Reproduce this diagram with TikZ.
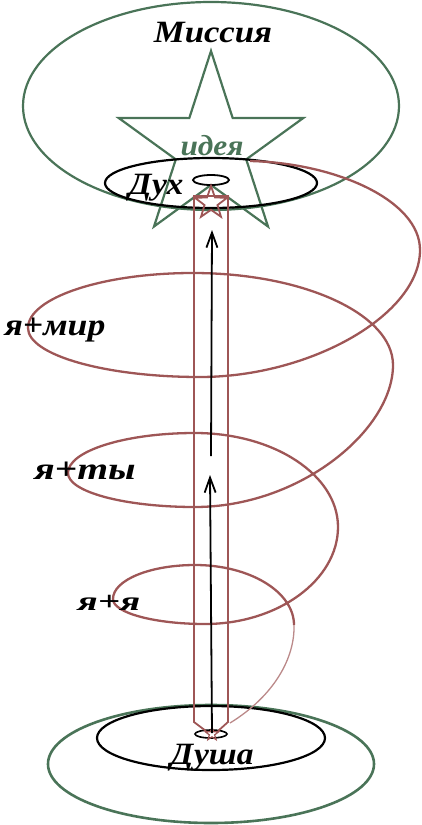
\documentclass[tikz,border=0pt]{standalone}
\usepackage{fontspec}
\setmainfont{Liberation Serif}
\usetikzlibrary{arrows.meta,shapes.geometric}
\definecolor{spiralred}{RGB}{158,86,86}
\definecolor{leafgreen}{RGB}{74,116,88}
\begin{document}
\begin{tikzpicture}[x=1pt,y=-1pt,
  gline/.style={draw=leafgreen,line width=2.2pt},
  bline/.style={draw=black,line width=2.2pt},
  rline/.style={draw=spiralred,line width=2.3pt},
  oval/.style={ellipse,inner sep=0pt,outer sep=0pt},
  hand/.style={font=\bfseries\itshape,inner sep=0pt},
  upflow/.style={draw=black,line width=1.8pt,-{Straight Barb[length=15pt,width=11pt,line width=1.8pt]}},
  redstar/.style={star,star points=5,star point ratio=2.5,inner sep=0pt,draw=spiralred}
]
\useasboundingbox (0,0) rectangle (422,825);

% top: mission ellipse
\node[oval,gline,minimum width=376pt,minimum height=208pt] (mission) at (211,106) {};
% star
\draw[gline,line join=miter] (211,51) -- (232.7,118.1) -- (303.3,118) -- (246.2,159.4)
  -- (268,226.5) -- (211,185) -- (154,226.5) -- (175.8,159.4) -- (118.7,118)
  -- (189.3,118.1) -- cycle;
% spirit ellipse
\node[oval,bline,minimum width=212pt,minimum height=50pt] (spirit) at (211,183) {};
\node[oval,draw=black,line width=1.8pt,minimum width=36pt,minimum height=10pt] (halo) at (211,180) {};

% bottom ellipses
\node[oval,draw=leafgreen,line width=2.6pt,minimum width=326pt,minimum height=118pt] (ground) at (211,764) {};
\node[oval,bline,minimum width=228pt,minimum height=64pt] (soulring) at (211,738) {};
\node[oval,draw=black,line width=1.6pt,minimum width=32pt,minimum height=8pt] (soulhalo) at (211,734) {};

% column
\draw[rline,line width=1.8pt] (206,731) -- (194,722) -- (194,196) -- (228,196) -- (228,722) -- (218,731);
\node[redstar,line width=1.8pt,minimum size=34pt] (topstar) at (211,203) {};
\node[redstar,line width=1.2pt,minimum size=14pt] (botstar) at (212,734) {};

% helix
\coordinate (h0) at (250,161);
\coordinate (h1) at (420,250);
\coordinate (h2) at (200,377);
\coordinate (h3) at (28,328);
\coordinate (h4) at (193,273);
\coordinate (h5) at (393,365);
\coordinate (h6) at (195,507);
\coordinate (h7) at (68,473);
\coordinate (h8) at (195,433);
\coordinate (h9) at (338,527);
\coordinate (h10) at (205,624);
\coordinate (h11) at (113,599);
\coordinate (h12) at (195,565);
\coordinate (h13) at (294,625);
\coordinate (h14) at (230,723);
\draw[rline]
 (h0) .. controls (335,163) and (420,200) .. (h1)
      .. controls (420,315) and (310,377) .. (h2)
      .. controls (105,377) and (28,355) .. (h3)
      .. controls (28,298) and (102,273) .. (h4)
      .. controls (303,273) and (393,314) .. (h5)
      .. controls (393,430) and (300,507) .. (h6)
      .. controls (125,507) and (68,492) .. (h7)
      .. controls (68,451) and (125,433) .. (h8)
      .. controls (274,433) and (338,475) .. (h9)
      .. controls (338,580) and (278,624) .. (h10)
      .. controls (155,624) and (113,613) .. (h11)
      .. controls (113,580) and (150,565) .. (h12)
      .. controls (250,565) and (294,592) .. (h13);
\draw[draw=spiralred!70,line width=1.3pt]
 (h13) .. controls (295,658) and (274,696) .. (h14);

% arrows along the axis
\coordinate (a0) at (212,733);
\coordinate (a1) at (210,475);
\coordinate (a2) at (211,456);
\coordinate (a3) at (212,230);
\draw[upflow] (a0) -- (a1);
\draw[upflow] (a2) -- (a3);

% labels
\node[hand,font=\bfseries\itshape\fontsize{31}{31}\selectfont] (tmission) at (213,33) {\scalebox{1.12}[1]{Миссия}};
\node[hand,text=leafgreen,font=\bfseries\itshape\fontsize{29}{29}\selectfont] (tidea) at (212,146) {\scalebox{1.08}[1]{идея}};
\node[hand,font=\bfseries\itshape\fontsize{31}{31}\selectfont] (tspirit) at (156,188) {\scalebox{1.08}[1]{Дух}};
\node[hand,font=\bfseries\itshape\fontsize{31}{31}\selectfont] (tsoul) at (212,758) {\scalebox{1.08}[1]{Душа}};
\node[hand,font=\bfseries\itshape\fontsize{31}{31}\selectfont] (tworld) at (55,330) {\scalebox{1.15}[1]{я+мир}};
\node[hand,font=\bfseries\itshape\fontsize{31}{31}\selectfont] (tyou) at (85,471) {\scalebox{1.28}[1]{я+ты}};
\node[hand,font=\bfseries\itshape\fontsize{27}{27}\selectfont] (tself) at (109,603) {\scalebox{1.45}[1]{я+я}};
\end{tikzpicture}
\end{document}
